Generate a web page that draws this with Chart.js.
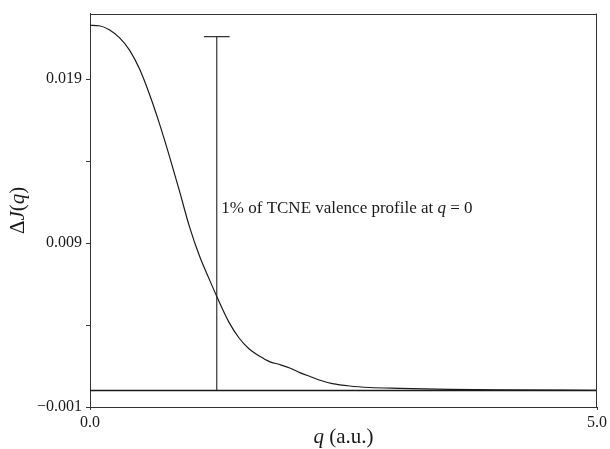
<!DOCTYPE html>
<html>
<head>
<meta charset="utf-8">
<script src="https://cdn.jsdelivr.net/npm/chart.js@4/dist/chart.umd.min.js"></script>
<style>
  html, body { margin: 0; padding: 0; background: #fff; }
  #wrap { width: 610px; height: 449px; }
</style>
</head>
<body>
<div id="wrap"><canvas id="c" width="610" height="449"></canvas></div>
<script>
// Momentum transfer q (a.u.) and the difference profile ΔJ(q)
const qValues = [0, 0.09, 0.19, 0.29, 0.39, 0.49, 0.59, 0.68, 0.78, 0.88, 0.98, 1.08, 1.18,
                 1.253, 1.37, 1.47, 1.57, 1.67, 1.77, 1.87, 1.97, 2.07, 2.17, 2.26, 2.39,
                 2.56, 2.76, 3.05, 3.55, 4.04, 5.0];
const deltaJ  = [0.02229, 0.02226, 0.02202, 0.02153, 0.02077, 0.01960, 0.01802, 0.01638,
                 0.01437, 0.01223, 0.01002, 0.00821, 0.00674, 0.00571, 0.00418, 0.00321,
                 0.00254, 0.00211, 0.00177, 0.00159, 0.00138, 0.00110, 0.00086, 0.00065,
                 0.00043, 0.00028, 0.00019, 0.00014, 0.00008, 0.00005, 0.00002];

// Reference bar: 1% of the TCNE valence profile at q = 0
const refBarQ = [1.25];
const refBarValue = [0.0216];

// Axis ticks
const yMajorTicks = [-0.001, 0.009, 0.019];
const yMajorLabels = ['\u22120.001', '0.009', '0.019'];
const yMinorTicks = [0.004, 0.014];
const xTicks = [0, 5];
const xTickLabels = ['0.0', '5.0'];

const SERIF = '"Liberation Serif", "DejaVu Serif", serif';
const INK = '#1a1a1a';

const curve = qValues.map((q, i) => ({ x: q, y: deltaJ[i] }));
const capHalf = 0.127;
const bar = [{ x: refBarQ[0], y: 0 }, { x: refBarQ[0], y: refBarValue[0] }];
const cap = [{ x: refBarQ[0] - capHalf, y: refBarValue[0] }, { x: refBarQ[0] + capHalf, y: refBarValue[0] }];
const zeroLine = [{ x: xTicks[0], y: 0 }, { x: xTicks[1], y: 0 }];

function drawRich(ctx, parts, x, y, size, align) {
  let total = 0;
  parts.forEach(p => { ctx.font = (p.i ? 'italic ' : '') + size + 'px ' + SERIF; p.w = ctx.measureText(p.t).width; total += p.w; });
  let cx = align === 'center' ? x - total / 2 : x;
  parts.forEach(p => {
    ctx.font = (p.i ? 'italic ' : '') + size + 'px ' + SERIF;
    ctx.fillText(p.t, cx, y);
    cx += p.w;
  });
}

const decor = {
  id: 'decor',
  afterDraw(chart) {
    const { ctx, chartArea: a, scales } = chart;
    ctx.save();
    // frame: top and right edges
    ctx.strokeStyle = '#333';
    ctx.lineWidth = 1;
    ctx.beginPath();
    ctx.moveTo(a.left, Math.round(a.top) + 0.5);
    ctx.lineTo(a.right, Math.round(a.top) + 0.5);
    ctx.moveTo(Math.round(a.right) - 0.5, a.top);
    ctx.lineTo(Math.round(a.right) - 0.5, a.bottom);
    ctx.stroke();

    ctx.fillStyle = INK;
    ctx.textBaseline = 'middle';
    // x title
    drawRich(ctx, [{ t: 'q', i: true }, { t: ' (a.u.)' }], (a.left + a.right) / 2, 437, 21, 'center');
    // y title
    ctx.save();
    ctx.translate(18, (a.top + a.bottom) / 2);
    ctx.rotate(-Math.PI / 2);
    drawRich(ctx, [{ t: '\u0394' }, { t: 'J', i: true }, { t: '(' }, { t: 'q', i: true }, { t: ')' }], 0, 0, 21, 'center');
    ctx.restore();
    // annotation beside the reference bar
    const tx = scales.x.getPixelForValue(1.295);
    const ty = scales.y.getPixelForValue(0.0111);
    drawRich(ctx, [{ t: '1% of TCNE valence profile at ' }, { t: 'q', i: true }, { t: ' = 0' }], tx, ty, 17, 'left');
    ctx.restore();
  }
};

new Chart(document.getElementById('c'), {
  type: 'line',
  data: {
    datasets: [
      { data: curve, borderColor: INK, borderWidth: 1.2, pointRadius: 0, cubicInterpolationMode: 'monotone', fill: false },
      { data: zeroLine, borderColor: INK, borderWidth: 1.5, pointRadius: 0, tension: 0 },
      { data: bar, borderColor: '#333', borderWidth: 1.2, pointRadius: 0, tension: 0 },
      { data: cap, borderColor: '#333', borderWidth: 1.2, pointRadius: 0, tension: 0 }
    ]
  },
  options: {
    responsive: false,
    animation: false,
    devicePixelRatio: 1,
    layout: { padding: { left: 0, right: 12, top: 13, bottom: 0 } },
    plugins: { legend: { display: false }, tooltip: { enabled: false } },
    scales: {
      x: {
        type: 'linear', min: xTicks[0], max: xTicks[1],
        afterBuildTicks: s => { s.ticks = xTicks.map(v => ({ value: v })); },
        afterFit: s => { s.height = 42; },
        ticks: {
          callback: v => { const i = xTicks.findIndex(t => Math.abs(t - v) < 1e-9); return i >= 0 ? xTickLabels[i] : ''; },
          font: { family: SERIF, size: 16 }, color: INK, padding: 3, maxRotation: 0
        },
        grid: { drawOnChartArea: false, tickLength: 3, color: '#333' },
        border: { color: '#333', width: 1 }
      },
      y: {
        type: 'linear', min: -0.001, max: 0.0230,
        afterBuildTicks: s => { s.ticks = yMajorTicks.concat(yMinorTicks).sort((a, b) => a - b).map(v => ({ value: v })); },
        afterFit: s => { s.width = 90; },
        ticks: {
          callback: v => { const i = yMajorTicks.findIndex(t => Math.abs(t - v) < 1e-9); return i >= 0 ? yMajorLabels[i] : ''; },
          font: { family: SERIF, size: 16 }, color: INK, padding: 4
        },
        grid: { drawOnChartArea: false, tickLength: 4, color: '#333' },
        border: { color: '#333', width: 1 }
      }
    }
  },
  plugins: [decor]
});
</script>
</body>
</html>
